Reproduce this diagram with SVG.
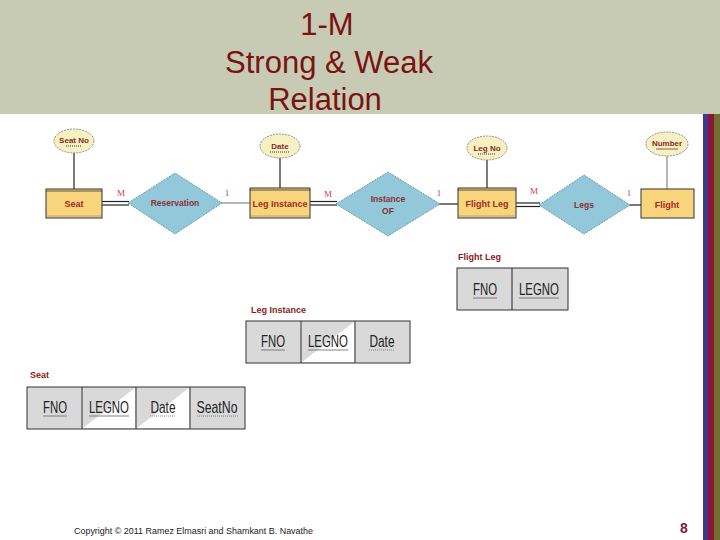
<svg xmlns="http://www.w3.org/2000/svg" width="720" height="540" viewBox="0 0 720 540">
<style>
.title{font-family:"Liberation Sans",Arial,sans-serif;font-size:31px;fill:#7a1212;text-anchor:middle}
.ent{fill:#f8d47c;stroke:#333;stroke-width:1}
.entl{font-family:"Liberation Sans",Arial,sans-serif;font-size:9px;font-weight:bold;fill:#a32a1a;text-anchor:middle}
.rel{fill:#92c8da;stroke:#6d9db0;stroke-width:1;stroke-dasharray:2 1}
.rell{font-family:"Liberation Sans",Arial,sans-serif;font-size:8.5px;font-weight:bold;fill:#8a3030;text-anchor:middle}
.att{fill:#f6f1c2;stroke:#777;stroke-width:0.8;stroke-dasharray:2 1}
.attl{font-family:"Liberation Sans",Arial,sans-serif;font-size:8px;font-weight:bold;fill:#8a2a1a;text-anchor:middle}
.card{font-family:"Liberation Serif",serif;font-size:9px;fill:#d04050;text-anchor:middle}
.ln{stroke:#222;stroke-width:1.2;fill:none}
.lg{stroke:#888;stroke-width:1.2;fill:none}
.tlab{font-family:"Liberation Sans",Arial,sans-serif;font-size:9px;font-weight:bold;fill:#8b1a1a}
.cell{fill:#d9d9d9;stroke:#333;stroke-width:1}
.ctxt{font-family:"Liberation Sans",Arial,sans-serif;font-size:17px;fill:#222;text-anchor:middle}
.ul{stroke:#666;stroke-width:0.8}
.ulw{fill:#ffffff}
</style>
<rect x="0" y="0" width="720" height="540" fill="#ffffff"/>
<rect x="0" y="0" width="720" height="114" fill="#c8cbb3"/>
<rect x="703" y="114" width="5" height="426" fill="#3b3b8e"/>
<rect x="708" y="114" width="6" height="426" fill="#8e1438"/>
<rect x="714" y="114" width="6" height="426" fill="#6f6f30"/>
<g id="title">
<text class="title" x="327" y="35">1-M</text>
<text class="title" x="329" y="73">Strong &amp; Weak</text>
<text class="title" x="325" y="110">Relation</text>
</g>

<g id="connectors">
<line class="ln" x1="74" y1="153" x2="74" y2="189"/>
<line class="ln" x1="280" y1="158" x2="280" y2="188"/>
<line class="ln" x1="487" y1="160" x2="487" y2="188"/>
<line class="lg" x1="667" y1="156" x2="667" y2="189"/>
<line class="ln" x1="102" y1="201.5" x2="129" y2="201.5"/>
<line class="ln" x1="102" y1="205" x2="129" y2="205"/>
<line class="lg" x1="221" y1="203" x2="250" y2="203"/>
<line class="ln" x1="310" y1="201.5" x2="337" y2="201.5"/>
<line class="ln" x1="310" y1="205" x2="337" y2="205"/>
<line class="ln" x1="439" y1="204" x2="458" y2="204"/>
<line class="ln" x1="516" y1="203" x2="540" y2="203"/>
<line class="ln" x1="516" y1="206.5" x2="540" y2="206.5"/>
<line class="ln" x1="629" y1="205" x2="641" y2="205"/>
<text class="card" x="121" y="196">M</text>
<text class="card" x="227" y="196">1</text>
<text class="card" x="328" y="197">M</text>
<text class="card" x="439" y="196">1</text>
<text class="card" x="534" y="194">M</text>
<text class="card" x="629" y="196">1</text>
</g>

<g id="seatno">
<ellipse class="att" cx="74" cy="141" rx="20" ry="12"/>
<text class="attl" x="74" y="143" font-size="6">Seat No</text>
<line x1="66" y1="146" x2="82" y2="146" stroke="#333" stroke-width="1" stroke-dasharray="1 1"/>
</g>
<g id="seat">
<rect class="ent" x="46" y="189" width="56" height="29"/>
<line x1="46" y1="191" x2="102" y2="191" stroke="#333" stroke-width="0.8"/>
<line x1="46" y1="216" x2="102" y2="216" stroke="#999" stroke-width="0.8"/>
<text class="entl" x="74" y="207">Seat</text>
</g>
<g id="reservation">
<polygon class="rel" points="128,203 175,173 222,203 175,234"/>
<text class="rell" x="175" y="206" font-weight="normal">Reservation</text>
</g>
<g id="date">
<ellipse class="att" cx="280" cy="146" rx="20" ry="12"/>
<text class="attl" x="280" y="149">Date</text>
<line x1="270" y1="152" x2="290" y2="152" stroke="#333" stroke-width="1" stroke-dasharray="1 1"/>
</g>
<g id="leginstance">
<rect class="ent" x="250" y="188" width="60" height="30"/>
<line x1="250" y1="190" x2="310" y2="190" stroke="#333" stroke-width="0.8"/>
<line x1="250" y1="216" x2="310" y2="216" stroke="#999" stroke-width="0.8"/>
<text class="entl" x="280" y="207">Leg Instance</text>
</g>
<g id="instanceof">
<polygon class="rel" points="336,204 388,172 440,204 388,236"/>
<text class="rell" x="388" y="202">Instance</text>
<text class="rell" x="388" y="214">OF</text>
</g>
<g id="legno">
<ellipse class="att" cx="487" cy="148" rx="20" ry="12"/>
<text class="attl" x="487" y="151">Leg No</text>
<line x1="478" y1="154" x2="496" y2="154" stroke="#333" stroke-width="1" stroke-dasharray="1 1"/>
</g>
<g id="flightleg">
<rect class="ent" x="458" y="188" width="58" height="30"/>
<line x1="458" y1="190" x2="516" y2="190" stroke="#333" stroke-width="0.8"/>
<line x1="458" y1="216" x2="516" y2="216" stroke="#999" stroke-width="0.8"/>
<text class="entl" x="487" y="207">Flight Leg</text>
</g>
<g id="legs">
<polygon class="rel" points="539,205 584,175 630,205 584,234"/>
<text class="rell" x="584" y="208">Legs</text>
</g>
<g id="number">
<ellipse class="att" cx="667" cy="144" rx="21" ry="12"/>
<text class="attl" x="667" y="146" font-size="7">Number</text>
<line x1="656" y1="149" x2="678" y2="149" stroke="#8a2a1a" stroke-width="0.8"/>
</g>
<g id="flight">
<rect class="ent" x="641" y="189" width="53" height="29" stroke="#aaa"/>
<text class="entl" x="667" y="208">Flight</text>
</g>

<g id="table-flightleg">
<text class="tlab" x="458" y="260">Flight Leg</text>
<rect class="cell" x="457" y="268" width="111" height="42"/>
<line x1="512" y1="268" x2="512" y2="310" stroke="#222" stroke-width="1"/>
<text class="ctxt" x="485" y="295" textLength="24" lengthAdjust="spacingAndGlyphs">FNO</text>
<line class="ul" x1="473" y1="298" x2="497" y2="298"/>
<text class="ctxt" x="539" y="295" textLength="40" lengthAdjust="spacingAndGlyphs">LEGNO</text>
<line class="ul" x1="519" y1="298" x2="559" y2="298"/>
</g>
<g id="table-leginstance">
<text class="tlab" x="251" y="313">Leg Instance</text>
<rect class="cell" x="246" y="321" width="164" height="42"/>
<polygon class="ulw" points="302,362 354,322 354,362"/>
<line x1="301" y1="321" x2="301" y2="363" stroke="#333" stroke-width="1"/>
<line x1="355" y1="321" x2="355" y2="363" stroke="#333" stroke-width="1"/>
<text class="ctxt" x="273" y="347" textLength="24" lengthAdjust="spacingAndGlyphs">FNO</text>
<line class="ul" x1="261" y1="350" x2="285" y2="350"/>
<text class="ctxt" x="328" y="347" textLength="40" lengthAdjust="spacingAndGlyphs">LEGNO</text>
<line class="ul" x1="308" y1="350" x2="348" y2="350"/>
<text class="ctxt" x="382" y="347" textLength="25" lengthAdjust="spacingAndGlyphs">Date</text>
<line class="ul" x1="369" y1="350" x2="395" y2="350" stroke-dasharray="1 1"/>
</g>
<g id="table-seat">
<text class="tlab" x="30" y="378">Seat</text>
<rect class="cell" x="27" y="387" width="218" height="42"/>
<polygon class="ulw" points="83,428 135,388 135,428"/>
<polygon class="ulw" points="137,428 189,388 189,428"/>
<line x1="82" y1="387" x2="82" y2="429" stroke="#333" stroke-width="1"/>
<line x1="136" y1="387" x2="136" y2="429" stroke="#333" stroke-width="1"/>
<line x1="190" y1="387" x2="190" y2="429" stroke="#333" stroke-width="1"/>
<text class="ctxt" x="55" y="413" textLength="24" lengthAdjust="spacingAndGlyphs">FNO</text>
<line class="ul" x1="43" y1="416" x2="67" y2="416"/>
<text class="ctxt" x="109" y="413" textLength="40" lengthAdjust="spacingAndGlyphs">LEGNO</text>
<line class="ul" x1="89" y1="416" x2="129" y2="416"/>
<text class="ctxt" x="163" y="413" textLength="25" lengthAdjust="spacingAndGlyphs">Date</text>
<line class="ul" x1="150" y1="416" x2="176" y2="416" stroke-dasharray="1 1"/>
<text class="ctxt" x="217" y="413" textLength="41" lengthAdjust="spacingAndGlyphs">SeatNo</text>
<line class="ul" x1="197" y1="416" x2="238" y2="416" stroke-dasharray="1 1"/>
</g>

<g id="footer">
<text x="74" y="534" font-family="Liberation Sans,Arial,sans-serif" font-size="8.5" fill="#222" textLength="239" lengthAdjust="spacingAndGlyphs">Copyright © 2011 Ramez Elmasri and Shamkant B. Navathe</text>
<text x="684" y="533" font-family="Liberation Sans,Arial,sans-serif" font-size="14" font-weight="bold" fill="#7a1a3a" text-anchor="middle">8</text>
</g>
</svg>
